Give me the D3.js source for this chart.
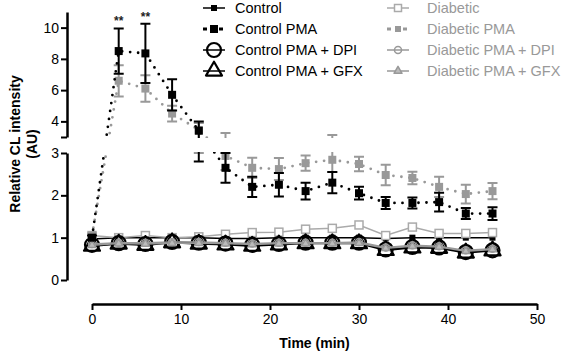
<!DOCTYPE html>
<html>
<head>
<meta charset="utf-8">
<script src="https://cdn.jsdelivr.net/npm/d3@7"></script>
<style>
  body { margin: 0; background: #fff; }
  svg { font-family: "Liberation Sans", Arial, sans-serif; }
</style>
</head>
<body>
<svg id="chart"></svg>
<script>
// time points (min)
const times = [0, 3, 6, 9, 12, 15, 18, 21, 24, 27, 30, 33, 36, 39, 42, 45];

const control     = [0.97, 1.0, 1.0, 1.0, 1.0, 0.98, 0.98, 1.0, 1.0, 1.0, 1.0, 0.98, 1.0, 1.0, 1.0, 1.0];
const controlPMA  = [1.0, 8.5, 8.35, 5.7, 3.4, 2.65, 2.2, 2.25, 2.1, 2.3, 2.05, 1.82, 1.82, 1.84, 1.57, 1.57];
const controlPMAErr = [0.05, 1.45, 1.9, 1.0, 0.6, 0.35, 0.24, 0.28, 0.2, 0.25, 0.15, 0.14, 0.13, 0.22, 0.13, 0.15];
const controlDPI  = [0.83, 0.87, 0.85, 0.9, 0.88, 0.86, 0.83, 0.85, 0.88, 0.88, 0.88, 0.72, 0.78, 0.77, 0.66, 0.7];
const controlGFX  = [0.8, 0.85, 0.82, 0.88, 0.85, 0.83, 0.8, 0.83, 0.86, 0.86, 0.86, 0.7, 0.76, 0.75, 0.64, 0.69];

const diabetic    = [1.05, 1.0, 1.05, 1.0, 1.02, 1.08, 1.12, 1.13, 1.2, 1.22, 1.3, 1.05, 1.25, 1.1, 1.1, 1.12];
const diabeticPMA = [1.05, 6.6, 6.1, 4.5, 3.45, 2.93, 2.65, 2.62, 2.76, 2.84, 2.74, 2.48, 2.41, 2.2, 2.03, 2.1];
const diabeticPMAErr = [0.05, 1.0, 0.85, 0.5, 0.45, 0.33, 0.24, 0.26, 0.18, 0.29, 0.17, 0.24, 0.15, 0.24, 0.22, 0.19];
const diabeticDPI = [0.85, 0.88, 0.88, 0.9, 0.9, 0.88, 0.86, 0.88, 0.88, 0.88, 0.9, 0.77, 0.82, 0.8, 0.7, 0.74];
const diabeticGFX = [0.82, 0.86, 0.85, 0.87, 0.87, 0.86, 0.84, 0.86, 0.86, 0.86, 0.87, 0.75, 0.8, 0.78, 0.68, 0.72];

const xTicks = [0, 10, 20, 30, 40, 50];
const yTicksLow = [0, 1, 2, 3];
const yTicksHigh = [3, 4, 6, 8, 10];
const stars = [{ t: 3, label: "**" }, { t: 6, label: "**" }];

const width = 561, height = 352;
const gray = "#999";

var svg = d3.select("#chart").attr("width", width).attr("height", height);

var x = d3.scaleLinear().domain([0, 50]).range([92, 537]);
// broken y axis: two linear pieces
var yLow = d3.scaleLinear().domain([0, 3]).range([280, 153]);
var yHigh = d3.scaleLinear().domain([3, 11]).range([137, 12]);
function y(v) { return v <= 3 ? yLow(v) : yHigh(v); }

// clip out the gap between the two y segments
var clip = svg.append("defs").append("clipPath").attr("id", "gapclip");
clip.append("rect").attr("x", 0).attr("y", 0).attr("width", width).attr("height", 138);
clip.append("rect").attr("x", 0).attr("y", 152).attr("width", width).attr("height", 200);

// axes
var xAxis = svg.append("g")
    .attr("transform", "translate(0,304)")
    .call(d3.axisBottom(x).tickValues(xTicks).tickSize(6).tickSizeOuter(0).tickPadding(4));
var yAxisLow = svg.append("g")
    .attr("transform", "translate(67,0)")
    .call(d3.axisLeft(yLow).tickValues(yTicksLow).tickSize(6).tickSizeOuter(0).tickPadding(2)
        .tickFormat(d3.format("d")));
var yAxisHigh = svg.append("g")
    .attr("transform", "translate(67,0)")
    .call(d3.axisLeft(yHigh).tickValues(yTicksHigh).tickSize(6).tickSizeOuter(0).tickPadding(2)
        .tickFormat(d => d === 3 ? "" : d));

[xAxis, yAxisLow, yAxisHigh].forEach(function(g) {
    g.select(".domain").attr("stroke", "#000").attr("stroke-width", 2.5);
    g.selectAll(".tick line").attr("stroke", "#000").attr("stroke-width", 2);
    g.selectAll(".tick text").attr("fill", "#000").style("font-size", "14px")
        .style("font-family", "Liberation Sans, Arial, sans-serif");
});

svg.append("text")
    .attr("x", (x(0) + x(50)) / 2)
    .attr("y", 348)
    .attr("text-anchor", "middle")
    .style("font-size", "14px")
    .style("font-weight", "bold")
    .text("Time (min)");

var yTitle = svg.append("text")
    .attr("transform", "translate(20,144) rotate(-90)")
    .attr("text-anchor", "middle")
    .style("font-size", "14px")
    .style("font-weight", "bold");
yTitle.append("tspan").attr("x", 0).attr("dy", 0).text("Relative CL intensity");
yTitle.append("tspan").attr("x", 0).attr("dy", 17).text("(AU)");

// series definitions
var series = [
    { name: "Control", values: control, color: "#000", lw: 1.5, dotted: false, marker: "square", msize: 6, fill: "#000" },
    { name: "Diabetic", values: diabetic, color: "#aaa", lw: 1.5, dotted: false, marker: "square", msize: 8, fill: "#fff" },
    { name: "Control PMA + DPI", values: controlDPI, color: "#000", lw: 1.5, dotted: false, marker: "circle", msize: 7, fill: "none", mw: 2.2 },
    { name: "Control PMA + GFX", values: controlGFX, color: "#000", lw: 1.5, dotted: false, marker: "triangle", msize: 16, fill: "none", mw: 2.2 },
    { name: "Diabetic PMA + DPI", values: diabeticDPI, color: gray, lw: 1.5, dotted: false, marker: "circle", msize: 3.5, fill: "none" },
    { name: "Diabetic PMA + GFX", values: diabeticGFX, color: gray, lw: 1.5, dotted: false, marker: "triangle", msize: 8, fill: "#bbb" },
    { name: "Diabetic PMA", values: diabeticPMA, err: diabeticPMAErr, color: gray, lw: 2.8, dotted: true, marker: "square", msize: 8, fill: gray },
    { name: "Control PMA", values: controlPMA, err: controlPMAErr, color: "#000", lw: 2.8, dotted: true, marker: "square", msize: 8, fill: "#000" }
];

function drawMarker(g, s, cx, cy) {
    var size = s.msize;
    if (s.marker === "square") {
        g.append("rect")
            .attr("x", cx - size / 2).attr("y", cy - size / 2)
            .attr("width", size).attr("height", size)
            .attr("fill", s.fill).attr("stroke", s.color).attr("stroke-width", s.fill === "#fff" ? 1.5 : 0);
    } else if (s.marker === "circle") {
        g.append("circle")
            .attr("cx", cx).attr("cy", cy).attr("r", size)
            .attr("fill", s.fill).attr("stroke", s.color).attr("stroke-width", s.mw || 1.5);
    } else {
        var h = size * Math.sqrt(3) / 2;
        g.append("path")
            .attr("d", "M" + cx + "," + (cy - h * 2 / 3) + "L" + (cx + size / 2) + "," + (cy + h / 3) +
                "L" + (cx - size / 2) + "," + (cy + h / 3) + "Z")
            .attr("fill", s.fill).attr("stroke", s.color).attr("stroke-width", s.mw || 1.5)
            .attr("stroke-linejoin", "round");
    }
}

var plot = svg.append("g").attr("clip-path", "url(#gapclip)");

var line = d3.line()
    .x((d, i) => x(times[i]))
    .y(d => y(d));

series.forEach(function(s) {
    var g = plot.append("g");
    g.append("path")
        .datum(s.values)
        .attr("d", line)
        .attr("fill", "none")
        .attr("stroke", s.color)
        .attr("stroke-width", s.lw)
        .attr("stroke-linecap", s.dotted ? "round" : "butt")
        .attr("stroke-dasharray", s.dotted ? "0,8" : null);

    if (s.err) {
        s.values.forEach(function(v, i) {
            var cx = x(times[i]);
            var lo = v - s.err[i], hi = v + s.err[i];
            g.append("line")
                .attr("x1", cx).attr("x2", cx).attr("y1", y(lo)).attr("y2", y(hi))
                .attr("stroke", s.color).attr("stroke-width", 2);
            [lo, hi].forEach(function(e) {
                g.append("line")
                    .attr("x1", cx - 5).attr("x2", cx + 5).attr("y1", y(e)).attr("y2", y(e))
                    .attr("stroke", s.color).attr("stroke-width", 2);
            });
        });
    }
    s.values.forEach(function(v, i) {
        drawMarker(g, s, x(times[i]), y(v));
    });
});

// significance stars
svg.selectAll("text.star")
    .data(stars)
    .enter().append("text")
    .attr("class", "star")
    .attr("x", d => x(d.t))
    .attr("y", d => y(controlPMA[times.indexOf(d.t)] + controlPMAErr[times.indexOf(d.t)]) - 3)
    .attr("text-anchor", "middle")
    .style("font-size", "12px")
    .style("font-weight", "bold")
    .attr("fill", "#222")
    .text(d => d.label);

// legend
var legendLeft = ["Control", "Control PMA", "Control PMA + DPI", "Control PMA + GFX"];
var legendRight = ["Diabetic", "Diabetic PMA", "Diabetic PMA + DPI", "Diabetic PMA + GFX"];
var legendSmall = {
    "Diabetic": { msize: 7 },
    "Diabetic PMA + DPI": { msize: 3.5 },
    "Diabetic PMA + GFX": { msize: 8 },
    "Control": { msize: 6 },
    "Diabetic PMA": { msize: 6 }
};

function drawLegend(names, sx, tx, textColor) {
    names.forEach(function(name, i) {
        var s = Object.assign({}, series.find(d => d.name === name));
        if (legendSmall[name]) s.msize = legendSmall[name].msize;
        var cy = 8 + i * 21;
        var g = svg.append("g");
        g.append("line")
            .attr("x1", sx - 11).attr("x2", sx + 11).attr("y1", cy).attr("y2", cy)
            .attr("stroke", s.color).attr("stroke-width", s.dotted ? 3 : 1.5)
            .attr("stroke-dasharray", s.dotted ? "4,4" : null);
        drawMarker(g, s, sx, cy);
        svg.append("text")
            .attr("x", tx).attr("y", cy + 5)
            .style("font-size", "14.5px")
            .attr("fill", textColor)
            .text(name);
    });
}
drawLegend(legendLeft, 214, 235, "#000");
drawLegend(legendRight, 398, 427, "#999");
</script>
</body>
</html>
